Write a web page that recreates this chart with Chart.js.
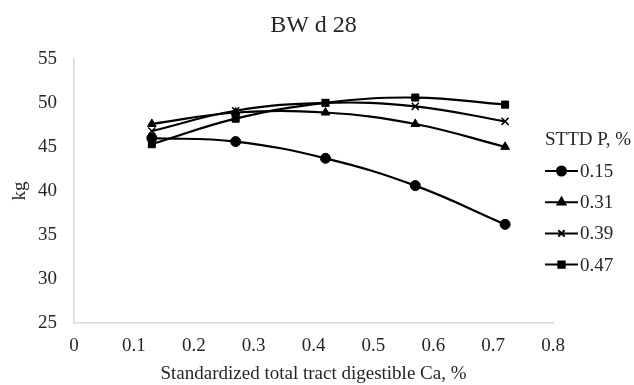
<!DOCTYPE html>
<html>
<head>
<meta charset="utf-8">
<script src="https://cdn.jsdelivr.net/npm/chart.js@4"></script>
<style>
  html, body { margin: 0; padding: 0; background: #fff; }
  #wrap { width: 634px; height: 385px; }
</style>
</head>
<body>
<div id="wrap"><canvas id="bwChart" width="634" height="385"></canvas></div>
<script>
// Data
const caLevels = [0.13, 0.27, 0.42, 0.57, 0.72];
const seriesNames = ["0.15", "0.31", "0.39", "0.47"];
const p015 = [46.0, 45.6, 43.7, 40.6, 36.2];
const p031 = [47.6, 48.9, 48.9, 47.6, 45.0];
const p039 = [46.8, 49.1, 50.0, 49.6, 47.9];
const p047 = [45.3, 48.2, 50.0, 50.6, 49.8];
const xTicks = [0, 0.1, 0.2, 0.3, 0.4, 0.5, 0.6, 0.7, 0.8];
const yTicks = [25, 30, 35, 40, 45, 50, 55];

const fontFamily = '"Liberation Serif", "Times New Roman", serif';
const textColor = "#262626";

const toPoints = (vals) => vals.map((v, i) => ({ x: caLevels[i], y: v }));

const styles = ["circle", "triangle", "crossRot", "rect"];
const values = [p015, p031, p039, p047];

const datasets = seriesNames.map((name, i) => ({
  label: name,
  data: toPoints(values[i]),
  borderColor: "#000",
  backgroundColor: "#000",
  borderWidth: 2.2,
  pointStyle: styles[i],
  pointRadius: 5,
  pointBorderWidth: styles[i] === "crossRot" ? 1.5 : 1,
  tension: 0.4,
}));

// legend drawn beside the plot, Excel style (line through marker)
const sideLegend = {
  id: "sideLegend",
  afterDraw(chart) {
    const ctx = chart.ctx;
    const x0 = 545;
    ctx.save();
    ctx.fillStyle = textColor;
    ctx.textBaseline = "middle";
    ctx.textAlign = "left";
    ctx.font = `19px ${fontFamily}`;
    ctx.fillText("STTD P, %", x0, 140);
    chart.data.datasets.forEach((ds, i) => {
      const y = 171 + i * 31.2;
      ctx.strokeStyle = "#000";
      ctx.fillStyle = "#000";
      ctx.lineWidth = 2;
      ctx.beginPath();
      ctx.moveTo(x0, y);
      ctx.lineTo(x0 + 33, y);
      ctx.stroke();
      Chart.helpers.drawPoint(ctx, {
        pointStyle: ds.pointStyle,
        radius: 4.5,
        borderWidth: ds.pointStyle === "crossRot" ? 1.5 : 1,
      }, x0 + 16.5, y);
      ctx.fillStyle = textColor;
      ctx.fillText(ds.label, x0 + 35, y + 1);
    });
    ctx.restore();
  },
};

new Chart(document.getElementById("bwChart"), {
  type: "line",
  data: { datasets },
  plugins: [sideLegend],
  options: {
    responsive: false,
    animation: false,
    layout: { padding: { left: 0, right: 81, top: 0, bottom: 0 } },
    plugins: {
      title: {
        display: true,
        fullSize: false,
        text: "BW d 28",
        color: textColor,
        font: { family: fontFamily, size: 24, weight: "normal" },
        padding: { top: 11, bottom: 19 },
      },
      legend: { display: false },
      tooltip: { enabled: false },
    },
    scales: {
      x: {
        type: "linear",
        min: 0,
        max: 0.8,
        afterBuildTicks: (scale) => {
          scale.ticks = xTicks.map((v) => ({ value: v }));
        },
        afterFit: (scale) => {
          scale.height = 62;
        },
        grid: { display: false, drawTicks: false },
        border: { color: "#d9d9d9", width: 1.5 },
        ticks: {
          color: textColor,
          font: { family: fontFamily, size: 19 },
          padding: 12,
          maxRotation: 0,
          callback: (v) => String(Math.round(v * 10) / 10),
        },
        title: {
          display: true,
          text: "Standardized total tract digestible Ca, %",
          color: textColor,
          font: { family: fontFamily, size: 19 },
          padding: { top: 0, bottom: 0 },
        },
      },
      y: {
        min: 25,
        max: 55,
        afterBuildTicks: (scale) => {
          scale.ticks = yTicks.map((v) => ({ value: v }));
        },
        afterFit: (scale) => {
          scale.width = 74;
        },
        grid: { display: false, drawTicks: false },
        border: { color: "#d9d9d9", width: 1.5 },
        ticks: {
          color: textColor,
          font: { family: fontFamily, size: 19 },
          padding: 17,
        },
        title: {
          display: true,
          text: "kg",
          color: textColor,
          font: { family: fontFamily, size: 19 },
          padding: { top: 9, bottom: 0 },
        },
      },
    },
  },
});
</script>
</body>
</html>
